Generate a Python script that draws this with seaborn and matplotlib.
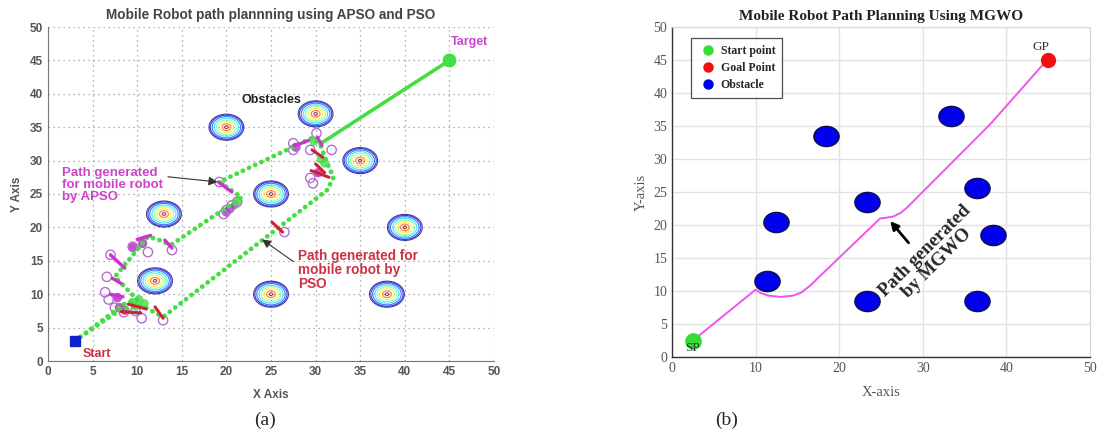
import numpy as np
import pandas as pd
import matplotlib.pyplot as plt
import seaborn as sns
from matplotlib.path import Path
from matplotlib.transforms import Affine2D
from matplotlib.lines import Line2D

sns.set_style("white")
plt.rcParams['font.family'] = ['Liberation Sans', 'DejaVu Sans']

# ---------------- panel (a) data: APSO / PSO ----------------
ticks_a = list(range(0, 51, 5))
start_a = (3, 3)
target_a = (45, 45)
obst_a_x = [20, 30, 35, 25, 13, 40, 12, 25, 38]
obst_a_y = [35, 37, 30, 25, 22, 20, 12, 10, 10]

apso_x = [3, 6, 8.5, 10, 7.5, 11.2, 12.3, 13.8, 21.7, 19.2, 29.6, 30.5]
apso_y = [3, 6, 8.5, 9.2, 12.6, 18.6, 18.2, 17.4, 24.5, 26.8, 33.4, 32.5]
pso_x = [3, 8, 10.5, 12.9, 31.3, 32, 31.3, 30.5]
pso_y = [3, 7.6, 8.3, 6.6, 25.6, 27.5, 29.6, 32.5]
final_x = [30.5, 45]
final_y = [32.5, 45]

circ_x = [19.2, 20, 20.6, 19.7, 21.2, 7.0, 6.6, 6.4, 6.8, 7.5, 9.5, 11.2, 13.9,
          10.5, 12.9, 26.5, 29.4, 29.7, 31.8, 29.4, 30.1, 27.5, 27.5, 8.5, 9.8]
circ_y = [26.8, 22.6, 23.3, 22.0, 23.8, 15.9, 12.6, 10.3, 9.2, 8.0, 17.1, 16.3, 16.6,
          6.4, 6.1, 19.3, 27.4, 26.6, 31.6, 31.6, 34.1, 31.6, 32.6, 7.3, 7.5]
blob_x = [20, 20.4, 9.5, 10.6, 27.8, 8, 7.8, 8.6, 30.3]
blob_y = [22.3, 22.8, 17, 17.6, 32, 8, 9.5, 7.6, 28.2]
green_blob_x = [9.5, 10.2, 10.8, 9.8, 21.3, 21.0, 31.0, 30.6, 29.8]
green_blob_y = [8.8, 9.2, 8.6, 8.2, 24.0, 23.4, 29.6, 30.2, 32.9]

mag_segs = [((19.1, 26.8), (20.6, 25.3)), ((7, 15.9), (8.6, 13.9)),
            ((13.1, 18.1), (13.9, 16.9)), ((30.2, 33.5), (30.7, 32.3)),
            ((7.2, 12.4), (8.2, 11.6)), ((10.0, 18.2), (11.5, 18.8)),
            ((27.6, 32.2), (29.2, 33.0)), ((7.0, 10.0), (8.4, 9.6))]
red_segs = [((12.0, 8.1), (12.9, 6.4)), ((25.1, 20.8), (26.3, 19.3)),
            ((29.6, 31.6), (30.8, 30.5)), ((29.5, 28.5), (31.5, 27.5)),
            ((9, 8.5), (11, 7.8)), ((30, 29.5), (31, 28.2)), ((8.2, 7.4), (10.4, 7.2))]

# ---------------- panel (b) data: MGWO ----------------
xticks_b = list(range(0, 51, 10))
yticks_b = list(range(0, 51, 5))
sp_b = (2.5, 2.5)
gp_b = (45, 45)
obst_b_x = [18.4, 33.4, 36.5, 23.3, 12.4, 11.4, 23.3, 36.5, 38.4]
obst_b_y = [33.5, 36.5, 25.6, 23.5, 20.5, 11.5, 8.5, 8.5, 18.5]
mgwo_x = [2.5, 10, 10.6, 11.5, 13, 14.5, 15.5, 16.5, 24.9, 25.6, 26.5, 27.3, 28,
          37.7, 38.3, 44.3, 45]
mgwo_y = [2.5, 10.2, 9.7, 9.3, 9.1, 9.3, 9.8, 10.8, 21, 21.1, 21.3, 21.8, 22.5,
          34.8, 35.6, 44.2, 45]

fig = plt.figure(figsize=(11.04, 4.37), dpi=100)
ax1 = fig.add_axes([48 / 1104, 76 / 437, 446 / 1104, 334 / 437])
ax2 = fig.add_axes([672 / 1104, 80 / 437, 418 / 1104, 330 / 437])

# ======== panel (a) ========
grey = '#555555'
ax1.set_xlim(0, 50)
ax1.set_ylim(0, 50)
ax1.set_xticks(ticks_a)
ax1.set_yticks(ticks_a)
ax1.grid(True, linestyle=(0, (1, 3)), color='#999999', lw=0.9)
for s in ['top', 'right']:
    ax1.spines[s].set_visible(False)
for s in ['left', 'bottom']:
    ax1.spines[s].set_color('#777777')
ax1.tick_params(direction='in', length=3, colors=grey, labelsize=8.5)
for t in ax1.get_xticklabels() + ax1.get_yticklabels():
    t.set_fontweight('bold')

gx, gy = np.meshgrid(np.linspace(0, 50, 601), np.linspace(0, 50, 601))
dist = np.full(gx.shape, 99.0)
for ox, oy in zip(obst_a_x, obst_a_y):
    dist = np.minimum(dist, np.hypot(gx - ox, gy - oy))
ax1.contour(gx, gy, dist, levels=[0.2, 0.5, 0.8, 1.1, 1.35, 1.6, 1.8, 1.95],
            cmap='jet_r', linewidths=0.8, alpha=0.75)

green = '#44dd44'
dots = (0, (0.05, 1.4))
sns.lineplot(x=apso_x, y=apso_y, sort=False, estimator=None, ax=ax1, color=green,
             lw=3.4, linestyle=dots, dash_capstyle='round')
sns.lineplot(x=pso_x, y=pso_y, sort=False, estimator=None, ax=ax1, color=green,
             lw=3.4, linestyle=dots, dash_capstyle='round')
sns.lineplot(x=final_x, y=final_y, sort=False, estimator=None, ax=ax1, color=green, lw=2.6)

for (p, q) in mag_segs:
    sns.lineplot(x=[p[0], q[0]], y=[p[1], q[1]], sort=False, estimator=None, ax=ax1,
                 color='#cc33cc', lw=2.4)
for (p, q) in red_segs:
    sns.lineplot(x=[p[0], q[0]], y=[p[1], q[1]], sort=False, estimator=None, ax=ax1,
                 color='#cc2233', lw=2.2)
sns.scatterplot(x=green_blob_x, y=green_blob_y, ax=ax1, color=green, s=40,
                edgecolor='none', alpha=0.8)
sns.scatterplot(x=blob_x, y=blob_y, ax=ax1, color='#bb22cc', s=45, edgecolor='none',
                alpha=0.8)
sns.scatterplot(x=circ_x, y=circ_y, ax=ax1, facecolor='none', edgecolor='#b070d0',
                s=45, linewidth=1.0)

ax1.plot(*target_a, 'o', color=green, ms=9)
ax1.plot(*start_a, 's', color='#1122cc', ms=7)

ax1.text(47.3, 46.9, 'Target', color='#cc44cc', fontsize=9, fontweight='bold',
         ha='center', va='bottom')
ax1.text(25.1, 39.1, 'Obstacles', color='#222222', fontsize=9, fontweight='bold',
         ha='center', va='center')
ax1.text(3.9, 1.1, 'Start', color='#cc3344', fontsize=9, fontweight='bold',
         ha='left', va='center')
ax1.annotate('Path generated\nfor mobile robot\nby APSO', xy=(19.0, 26.8),
             xytext=(1.6, 29.0), color='#cc44cc', fontsize=9.5, fontweight='bold',
             ha='left', va='top', linespacing=1.0,
             arrowprops=dict(arrowstyle='-|>', color='#333333', lw=0.8,
                             mutation_scale=13, relpos=(1.0, 0.75),
                             shrinkA=1, shrinkB=0))
ax1.annotate('Path generated for\nmobile robot by\nPSO', xy=(24.0, 18.2),
             xytext=(28.0, 16.8), color='#cc3344', fontsize=9.8, fontweight='bold',
             ha='left', va='top', linespacing=1.0,
             arrowprops=dict(arrowstyle='-|>', color='#333333', lw=0.8,
                             mutation_scale=13, relpos=(0.0, 0.62),
                             shrinkA=1, shrinkB=0))

ax1.set_title('Mobile Robot path plannning using APSO and PSO', fontsize=9.8,
              fontweight='bold', color='#444444', pad=6)
ax1.set_xlabel('X Axis', fontsize=8.5, fontweight='bold', color=grey, labelpad=8)
ax1.set_ylabel('Y Axis', fontsize=8.5, fontweight='bold', color=grey, labelpad=5)

# ======== panel (b) ========
serif = ['Liberation Serif', 'DejaVu Serif']
ax2.set_xlim(0, 50)
ax2.set_ylim(0, 50)
ax2.set_xticks(xticks_b)
ax2.set_yticks(yticks_b)
ax2.grid(True, color='#e2e2e2', lw=1.0)
for s in ['top', 'right']:
    ax2.spines[s].set_color('#d8d8d8')
for s in ['left', 'bottom']:
    ax2.spines[s].set_color('#333333')
    ax2.spines[s].set_linewidth(1.0)
ax2.tick_params(direction='in', length=3, colors='#555555', labelsize=10)
for t in ax2.get_xticklabels() + ax2.get_yticklabels():
    t.set_family(serif)

sns.lineplot(x=mgwo_x, y=mgwo_y, sort=False, estimator=None, ax=ax2,
             color='#ee55ee', lw=1.4)

ell = Path.unit_circle().transformed(Affine2D().scale(1.25, 1.0))
sns.scatterplot(x=obst_b_x, y=obst_b_y, ax=ax2, marker=ell, s=330, color='#0000ee',
                edgecolor='#111144', linewidth=1.0, zorder=3)
ax2.plot(*sp_b, 'o', color='#33dd33', ms=11, zorder=4)
ax2.plot(*gp_b, 'o', color='#ee1111', ms=10, zorder=4)
ax2.text(2.4, 1.3, 'SP', family=serif, fontsize=9.5, color='#333333',
         ha='center', va='center', zorder=5)
ax2.text(44.1, 46.0, 'GP', family=serif, fontsize=9.5, color='#333333',
         ha='center', va='bottom')

ax2.annotate('', xy=(26.1, 20.6), xytext=(28.3, 17.3),
             arrowprops=dict(arrowstyle='-|>', color='black', lw=2.0,
                             mutation_scale=12, shrinkA=0, shrinkB=0))
ax2.text(31.0, 15.2, 'Path generated\nby MGWO', family=serif, fontsize=13.5,
         fontweight='bold', rotation=45, ha='center', va='center',
         rotation_mode='anchor', linespacing=1.0)

handles = [Line2D([], [], marker='o', ls='none', color='#33dd33', ms=6.5),
           Line2D([], [], marker='o', ls='none', color='#ee1111', ms=6.5),
           Line2D([], [], marker='o', ls='none', color='#0000ee', ms=6.5)]
leg = ax2.legend(handles, ['Start point', 'Goal Point', 'Obstacle'], loc='upper left',
                 bbox_to_anchor=(0.04, 0.975), frameon=True, fancybox=False,
                 prop={'family': serif, 'weight': 'bold', 'size': 8.5},
                 handletextpad=0.3, borderpad=0.6, labelspacing=0.45,
                 handlelength=1.6, borderaxespad=0.2)
leg.get_frame().set_edgecolor('#222222')
leg.get_frame().set_linewidth(0.9)

ax2.set_title('Mobile Robot Path Planning Using MGWO', family=serif, fontsize=11,
              fontweight='bold', color='#222222', pad=5)
ax2.set_xlabel('X-axis', family=serif, fontsize=10.5, color='#555555', labelpad=8)
ax2.set_ylabel('Y-axis', family=serif, fontsize=10.5, color='#555555', labelpad=4)

fig.text(265 / 1104, 1 - 420 / 437, '(a)', family=serif, fontsize=14, ha='center',
         va='center')
fig.text(727 / 1104, 1 - 420 / 437, '(b)', family=serif, fontsize=14, ha='center',
         va='center')

fig.savefig('out.png', dpi=100)
